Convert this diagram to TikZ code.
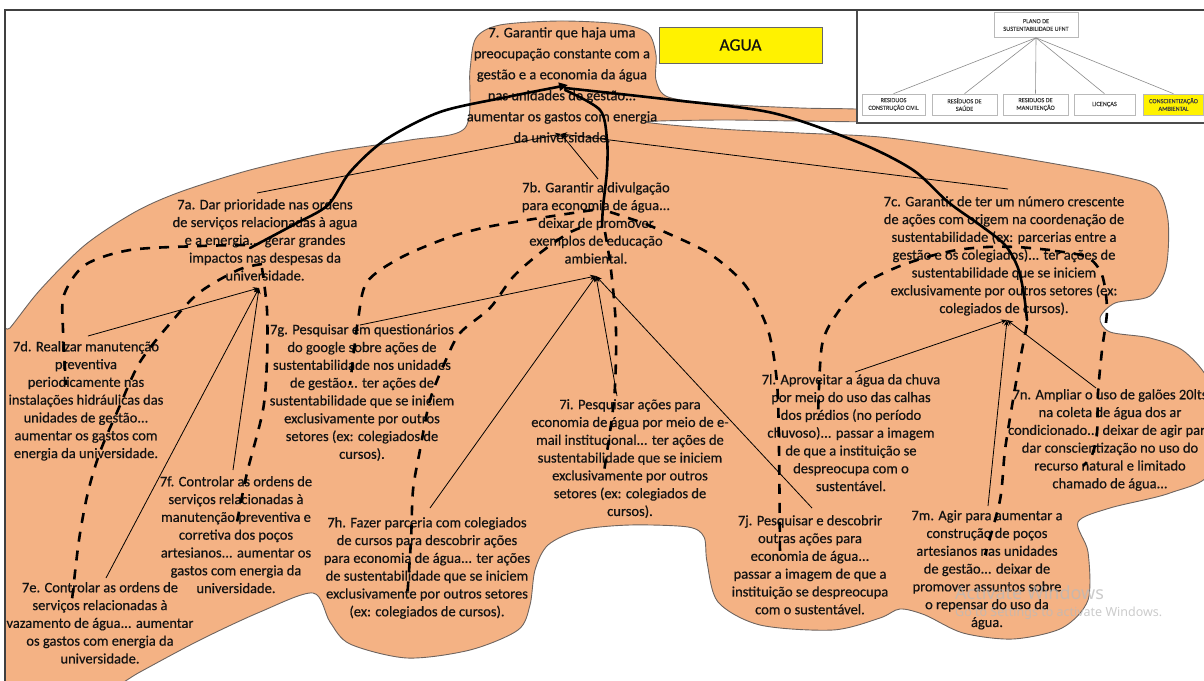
\documentclass[tikz,border=0pt]{standalone}
\usepackage{fontspec}
\setmainfont{Carlito}
\newfontfamily\nodefont{Carlito}[FakeBold=0.45]
\newfontfamily\wmfont{Noto Sans}
\usetikzlibrary{arrows.meta}
\definecolor{blob}{RGB}{244,178,132}
\definecolor{blobedge}{RGB}{110,100,95}
\definecolor{ink}{RGB}{18,18,18}
\definecolor{boxedge}{RGB}{185,185,185}
\definecolor{wmgray}{RGB}{186,186,186}
\begin{document}
\begin{tikzpicture}[x=1pt,y=-1pt,
  txt/.style={align=center, inner sep=0pt, anchor=north, text=ink,
              font=\nodefont\fontsize{14.5}{17.8}\selectfont},
  thinarrow/.style={draw=black, line width=0.8pt, -{Stealth[length=6pt,width=5pt]}},
  thicklink/.style={draw=black, line width=2.6pt, line cap=round},
  dashlink/.style={draw=black, line width=2.6pt, dash pattern=on 10pt off 9pt},
  inbox/.style={draw=boxedge, line width=0.6pt, fill=white, align=center, inner sep=1pt,
                text=black!75, font=\nodefont\fontsize{6.3}{7.6}\selectfont},
  inlink/.style={draw=black!45, line width=0.6pt},
  wmark/.style={anchor=west, inner sep=0pt, text=wmgray, opacity=0.75}]
\useasboundingbox (0,0) rectangle (1204,680);

% orange background shape
\begin{scope}
\clip (6,11) rectangle (1204,690);
\filldraw[fill=blob, draw=blobedge, line width=0.9pt]
  plot[smooth cycle, tension=0.5] coordinates {
  (470,70) (476,38) (500,25) (560,21) (620,24) (648,33) (656,55) (656,80) (668,97)
  (720,104) (800,108) (868,110) (872,121) (800,121) (720,120) (646,122) (720,129)
  (800,133) (880,137) (960,148) (1050,163) (1120,176) (1156,188) (1168,220)
  (1166,268) (1150,296) (1115,303) (1100,318) (1110,332) (1150,338) (1185,352)
  (1212,390) (1212,470) (1170,493) (1110,508) (1078,522) (1088,552) (1088,600)
  (1062,628) (1013,639) (963,633) (925,615) (900,609) (880,618) (833,630) (760,625)
  (718,602) (707,562) (704,537) (688,527) (630,525) (580,530) (548,545) (535,570)
  (530,605) (518,630) (470,650) (407,658) (350,644) (330,622) (313,593) (260,612)
  (200,640) (140,672) (80,705) (-10,705) (-10,350) (10,328) (40,290) (85,245)
  (135,212) (180,192) (250,170) (330,152) (410,140) (465,128)};
\end{scope}

% legend box
\fill[white] (857,10) rectangle (1204,123);
\draw[black!70, line width=1.4pt] (857,10) -- (857,123) -- (1204,123);
\node[inbox, minimum width=84pt, minimum height=25pt] (plan) at (1036,25) {PLANO DE\\SUSTENTABILIDADE UFNT};
\node[inbox, minimum width=63pt, minimum height=21pt] (rc) at (893.5,104.5) {RESIDUOS\\CONSTRUÇÃO CIVIL};
\node[inbox, minimum width=65pt, minimum height=21pt] (rs) at (964.5,104.5) {RESÍDUOS DE\\SAÚDE};
\node[inbox, minimum width=65pt, minimum height=21pt] (rm) at (1035.5,104.5) {RESIDUOS DE\\MANUTENÇÃO};
\node[inbox, minimum width=61pt, minimum height=21pt] (li) at (1104.5,104.5) {LICENÇAS};
\node[inbox, fill=yellow, minimum width=60pt, minimum height=21pt] (ca) at (1173.5,104.5) {CONSCIENTIZAÇÃO\\AMBIENTAL};
\foreach \b in {rc,rs,rm,li,ca} \draw[inlink] (plan.south) -- (\b.north);

% frame
\draw[black!75, line width=1.8pt] (5,700) -- (5,10) -- (1210,10);

% title tag
\node[draw=black!60, line width=0.8pt, fill=yellow, minimum width=163pt, minimum height=36pt,
      inner sep=0pt, font=\nodefont\fontsize{17.5}{20}\selectfont, text=ink] (agua) at (740.5,45) {AGUA};

% statements
\node[txt, font=\nodefont\fontsize{14.5}{21}\selectfont] (n7) at (562,27) {7. Garantir que haja uma\\preocupação constante com a\\gestão e a economia da água\\nas unidades de gestão...\\aumentar os gastos com energia\\da universidade.};
\node[txt] (n7a) at (265,199) {7a. Dar prioridade nas ordens\\de serviços relacionadas à agua\\e a energia... gerar grandes\\impactos nas despesas da\\universidade.};
\node[txt] (n7b) at (596,182) {7b. Garantir a divulgação\\para economia de água...\\deixar de promover\\exemplos de educação\\ambiental.};
\node[txt] (n7c) at (1004,196) {7c. Garantir de ter um número crescente\\de ações com origem na coordenação de\\sustentabilidade (ex: parcerias entre a\\gestão e os colegiados)... ter ações de\\sustentabilidade que se iniciem\\exclusivamente por outros setores (ex:\\colegiados de cursos).};
\node[txt] (n7d) at (86,341) {7d. Realizar manutenção\\preventiva\\periodicamente nas\\instalações hidráulicas das\\unidades de gestão...\\aumentar os gastos com\\energia da universidade.};
\node[txt] (n7g) at (362,324) {7g. Pesquisar em questionários\\do google sobre ações de\\sustentabilidade nos unidades\\de gestão... ter ações de\\sustentabilidade que se iniciem\\exclusivamente por outros\\setores (ex: colegiados de\\cursos).};
\node[txt] (n7f) at (236,476) {7f. Controlar as ordens de\\serviços relacionadas à\\manutenção preventiva e\\corretiva dos poços\\artesianos... aumentar os\\gastos com energia da\\universidade.};
\node[txt] (n7e) at (100,582) {7e. Controlar as ordens de\\serviços relacionadas à\\vazamento de água... aumentar\\os gastos com energia da\\universidade.};
\node[txt] (n7h) at (427,517) {7h. Fazer parceria com colegiados\\de cursos para descobrir ações\\para economia de água... ter ações\\de sustentabilidade que se iniciem\\exclusivamente por outros setores\\(ex: colegiados de cursos).};
\node[txt] (n7i) at (630,399) {7i. Pesquisar ações para\\economia de água por meio de e-\\mail institucional... ter ações de\\sustentabilidade que se iniciem\\exclusivamente por outros\\setores (ex: colegiados de\\cursos).};
\node[txt] (n7l) at (851,374) {7l. Aproveitar a água da chuva\\por meio do uso das calhas\\dos prédios (no período\\chuvoso)... passar a imagem\\de que a instituição se\\despreocupa com o\\sustentável.};
\node[txt] (n7j) at (810,515) {7j. Pesquisar e descobrir\\outras ações para\\economia de água...\\passar a imagem de que a\\instituição se despreocupa\\com o sustentável.};
\node[txt] (n7m) at (987,510) {7m. Agir para aumentar a\\construção de poços\\artesianos nas unidades\\de gestão... deixar de\\promover assuntos sobre\\o repensar do uso da\\água.};
\node[txt] (n7n) at (1110,389) {7n. Ampliar o uso de galões 20lts\\na coleta de água dos ar\\condicionado... deixar de agir para\\dar conscientização no uso do\\recurso natural e limitado\\chamado de água...};

% link end points
\coordinate (t7) at (561,134);  \coordinate (t7a) at (259,288);
\coordinate (t7b) at (596,276); \coordinate (t7c) at (1007,320);
\coordinate (s7a) at (257,193); \coordinate (s7b) at (598,179); \coordinate (s7c) at (1008,189);
\coordinate (s7d) at (88,336);  \coordinate (s7f) at (233,470); \coordinate (s7e) at (106,578);
\coordinate (s7g) at (360,325); \coordinate (s7h) at (430,508); \coordinate (s7i) at (617,396);
\coordinate (s7j) at (812,508); \coordinate (s7l) at (855,372); \coordinate (s7m) at (988,506);
\coordinate (s7n) at (1096,388);

% thin influence arrows
\foreach \s/\t in {s7a/t7, s7b/t7, s7c/t7, s7d/t7a, s7f/t7a, s7e/t7a,
                   s7g/t7b, s7h/t7b, s7i/t7b, s7j/t7b, s7l/t7c, s7m/t7c, s7n/t7c}
  \draw[thinarrow] (\s) -- (\t);

% thick solid links from the goal
\draw[thicklink, -{Triangle[length=9pt,width=8pt]}] plot[smooth] coordinates {(250,248) (295,224) (328,205) (350,172) (385,140) (440,112) (507,97) (568,85)};
\draw[thicklink] plot[smooth] coordinates {(565,90) (600,110) (607,140) (607,170) (603,207) (602,227)};
\draw[thicklink] plot[smooth] coordinates {(565,88) (673,100) (773,113) (860,143) (913,170) (948,202) (980,225) (1005,245) (1018,268) (1024,295) (1027,320)};

% dashed links to the sub-actions
\draw[dashlink] plot[smooth] coordinates {(245,245) (200,246) (130,250) (85,265) (64,295) (63,330) (66,385)};
\draw[dashlink] plot[smooth] coordinates {(262,264) (238,270) (200,292) (173,320) (140,362) (118,410) (100,452) (88,492) (79,540) (72,600)};
\draw[dashlink] plot[smooth] coordinates {(262,268) (267,310) (267,360) (263,410) (247,473) (237,522)};
\draw[dashlink] plot[smooth] coordinates {(593,210) (540,218) (487,227) (447,238) (400,258) (367,282) (358,320) (350,385)};
\draw[dashlink] plot[smooth] coordinates {(580,228) (567,234) (540,253) (513,277) (490,308) (460,333) (445,362) (430,400) (420,450) (413,490) (411,540) (407,600)};
\draw[dashlink] plot[smooth] coordinates {(605,232) (611,270) (616,330) (614,400) (603,478)};
\draw[dashlink] plot[smooth] coordinates {(610,212) (640,222) (667,233) (710,254) (745,285) (768,330) (777,383) (779,450) (780,557)};
\draw[dashlink] plot[smooth] coordinates {(1050,250) (1017,247) (987,247) (957,250) (927,257) (895,268) (862,285) (838,312) (822,345) (818,420)};
\draw[dashlink] plot[smooth] coordinates {(1027,325) (1020,360) (1013,400) (1005,450) (1000,500) (985,555)};
\draw[dashlink] plot[smooth] coordinates {(1055,251) (1087,257) (1102,275) (1107,310) (1102,350) (1098,393) (1097,433) (1092,455) (1083,466)};

% system watermark
\node[wmark, font=\wmfont\fontsize{18}{20}\selectfont] (wm1) at (955,593) {Activate Windows};
\node[wmark, font=\wmfont\fontsize{12.5}{14}\selectfont] (wm2) at (955,613) {Go to Settings to activate Windows.};
\end{tikzpicture}
\end{document}
